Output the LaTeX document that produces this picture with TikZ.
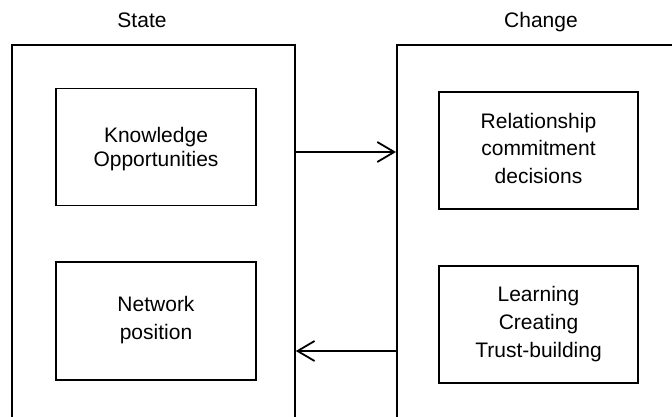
\documentclass[tikz,border=0pt]{standalone}
\usepackage{fontspec}
\setmainfont{Liberation Sans}
\usetikzlibrary{arrows.meta}
\begin{document}
\begin{tikzpicture}[x=1pt,y=-1pt,
  outerbox/.style={draw,line width=1.8pt,minimum width=#1,minimum height=420pt,inner sep=0pt,anchor=north west},
  innerbox/.style={draw,line width=1.8pt,minimum width=200pt,minimum height=117pt,inner sep=0pt},
  boxtext/.style={inner sep=0pt,align=center,font=\fontsize{21}{#1}\selectfont},
  titlelabel/.style={anchor=base,inner sep=0pt,font=\fontsize{21}{26}\selectfont},
  link/.style={line width=1.8pt,-{Straight Barb[length=17pt,width=20pt]}}]
\clip (0,0) rectangle (672,417);
\node[outerbox=283pt] (statebox) at (11,44) {};
\node[outerbox=320pt] (changebox) at (396,44) {};
\node[titlelabel] (statetitle) at (142,28) {State};
\node[titlelabel] (changetitle) at (541,28) {Change};
\node[innerbox] (know) at (156,147) {};
\node[innerbox,minimum height=118pt] (netpos) at (156,321) {};
\node[innerbox,minimum width=199pt] (relation) at (538.5,150.5) {};
\node[innerbox,minimum width=199pt] (learning) at (538.5,324.5) {};
\node[boxtext=24] (knowtext) at ([yshift=-2.5pt]know.center) {Knowledge\\Opportunities};
\node[boxtext=28] (nettext) at ([yshift=0.5pt]netpos.center) {Network\\position};
\node[boxtext=27.5] (reltext) at ([yshift=2.5pt]relation.center) {Relationship\\commitment\\decisions};
\node[boxtext=28] (learntext) at (learning.center) {Learning\\Creating\\Trust-building};
\draw[link] (statebox.east |- 0,152) -- (changebox.west |- 0,152);
\draw[link] (changebox.west |- 0,351) -- (statebox.east |- 0,351);
\end{tikzpicture}
\end{document}
